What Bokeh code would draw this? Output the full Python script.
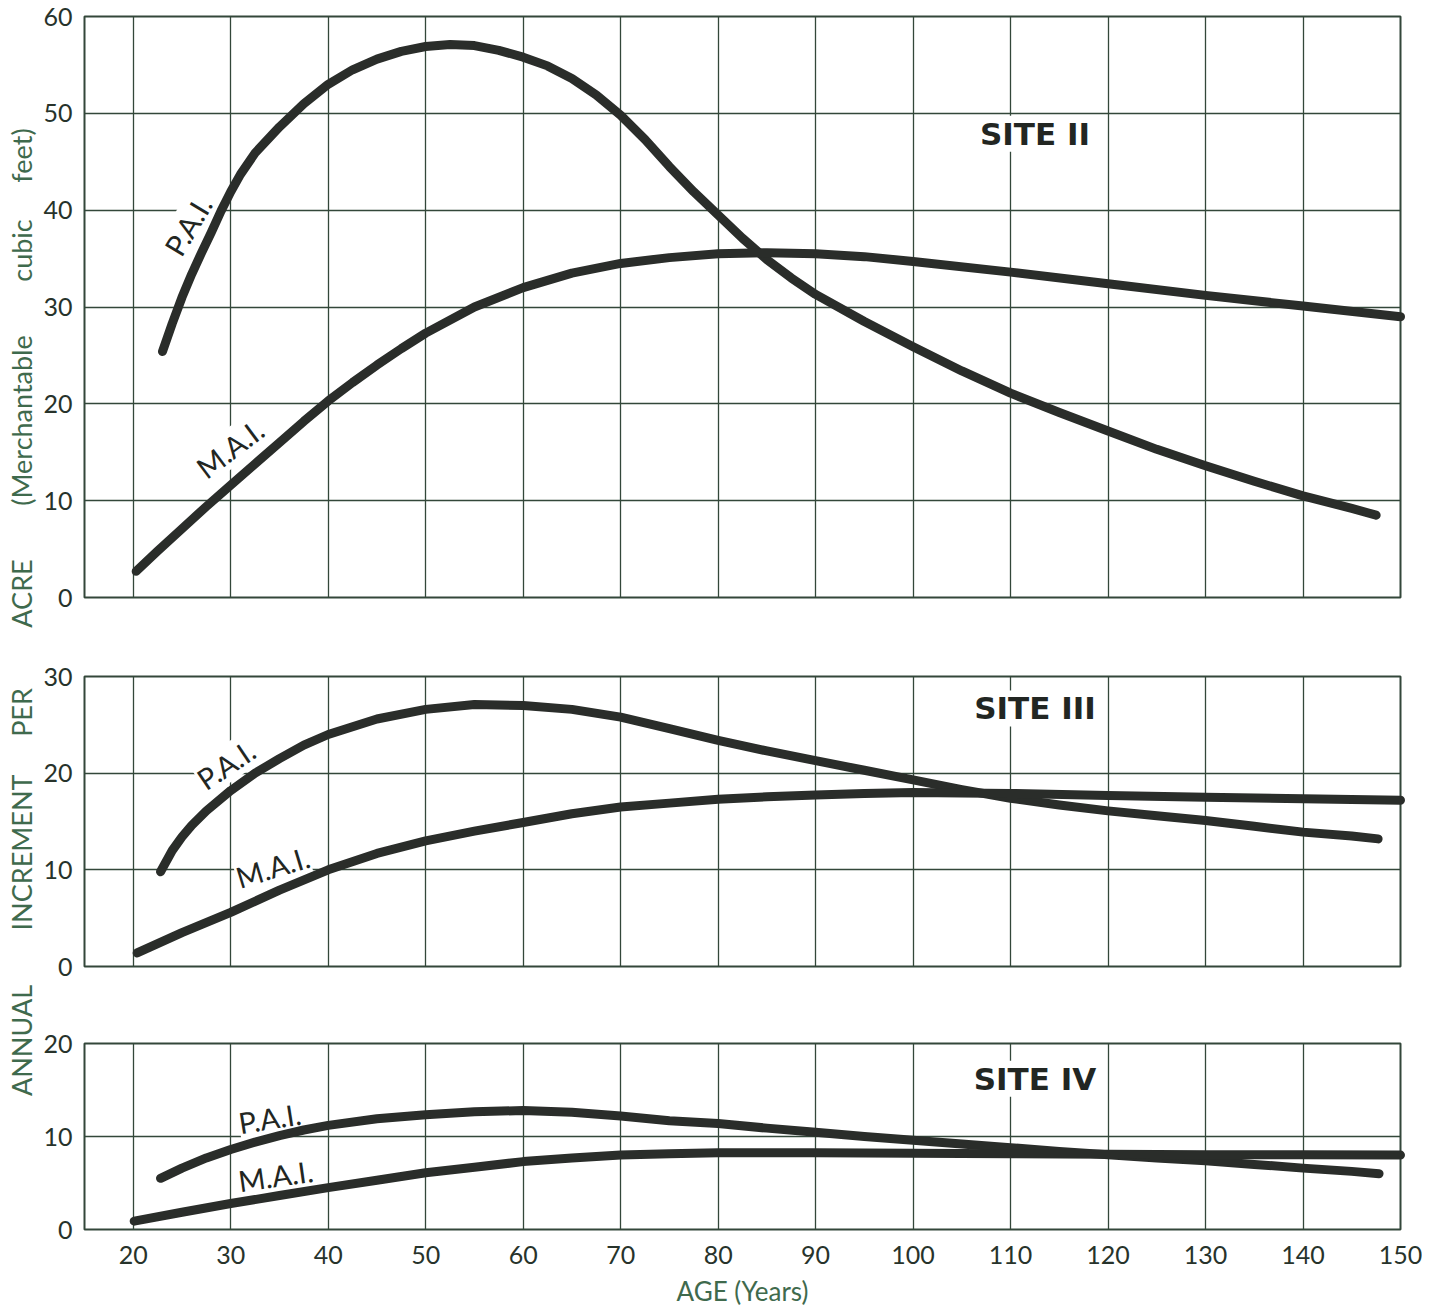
import numpy as np
from bokeh.plotting import figure
from bokeh.models import Range1d, FixedTicker, Label
from bokeh.layouts import row, column
from bokeh.embed import file_html
from bokeh.resources import INLINE
from bokeh.core.properties import value

# ---------------- data ----------------
x_ticks = [20, 30, 40, 50, 60, 70, 80, 90, 100, 110, 120, 130, 140, 150]

site2_pai_age = [23, 24, 25, 26, 27, 28, 29, 30, 31, 32.5, 35, 37.5, 40, 42.5, 45, 47.5, 50, 52.5,
                 55, 57.5, 60, 62.5, 65, 67.5, 70, 72.5, 75, 77.5, 80, 82.5, 85, 87.5, 90, 95,
                 100, 105, 110, 115, 120, 125, 130, 135, 140, 145, 147.5]
site2_pai = [25.4, 28.3, 31.0, 33.4, 35.6, 37.7, 39.9, 41.9, 43.7, 45.9, 48.6, 51.0, 53.0, 54.5,
             55.6, 56.4, 56.9, 57.1, 57.0, 56.5, 55.8, 54.9, 53.6, 51.9, 49.8, 47.3, 44.5, 41.9,
             39.5, 37.1, 34.9, 33.0, 31.3, 28.5, 25.9, 23.4, 21.1, 19.1, 17.2, 15.3, 13.6, 12.0,
             10.5, 9.2, 8.5]
site2_mai_age = [20.3, 22.5, 25, 27.5, 30, 32.5, 35, 37.5, 40, 42.5, 45, 47.5, 50, 55, 60, 65, 70,
                 75, 80, 85, 90, 95, 100, 110, 120, 130, 140, 150]
site2_mai = [2.7, 4.8, 7.1, 9.4, 11.6, 13.8, 16.0, 18.2, 20.3, 22.2, 24.0, 25.7, 27.3, 30.0, 32.0,
             33.5, 34.5, 35.1, 35.5, 35.6, 35.5, 35.2, 34.7, 33.6, 32.4, 31.2, 30.1, 29.0]

site3_pai_age = [22.8, 24, 25, 26, 27.5, 30, 32.5, 35, 37.5, 40, 45, 50, 55, 60, 65, 70, 75, 80,
                 85, 90, 95, 100, 105, 110, 115, 120, 125, 130, 135, 140, 145, 147.7]
site3_pai = [9.8, 12.0, 13.4, 14.6, 16.1, 18.2, 20.0, 21.5, 22.9, 24.0, 25.6, 26.6, 27.1, 27.0,
             26.6, 25.8, 24.6, 23.4, 22.3, 21.3, 20.3, 19.3, 18.3, 17.4, 16.7, 16.1, 15.6, 15.1,
             14.5, 13.9, 13.5, 13.2]
site3_mai_age = [20.4, 25, 30, 35, 40, 45, 50, 55, 60, 65, 70, 75, 80, 85, 90, 95, 100, 110, 120,
                 130, 140, 150]
site3_mai = [1.4, 3.5, 5.6, 7.9, 10.0, 11.7, 13.0, 14.0, 14.9, 15.8, 16.5, 16.9, 17.3, 17.55, 17.75,
             17.9, 18.0, 17.9, 17.7, 17.5, 17.35, 17.2]

site4_pai_age = [22.8, 25, 27.5, 30, 32.5, 35, 37.5, 40, 45, 50, 55, 60, 65, 70, 75, 80, 85, 90,
                 95, 100, 105, 110, 115, 120, 125, 130, 135, 140, 145, 147.8]
site4_pai = [5.5, 6.6, 7.7, 8.6, 9.4, 10.1, 10.7, 11.2, 11.9, 12.35, 12.65, 12.8, 12.6, 12.2, 11.7,
             11.4, 10.9, 10.45, 10.0, 9.6, 9.2, 8.8, 8.4, 8.05, 7.7, 7.4, 7.0, 6.6, 6.25, 6.0]
site4_mai_age = [20.1, 25, 30, 35, 40, 45, 50, 55, 60, 65, 70, 75, 80, 90, 100, 110, 120, 130, 140,
                 150]
site4_mai = [0.9, 1.85, 2.8, 3.65, 4.5, 5.3, 6.1, 6.7, 7.3, 7.7, 8.0, 8.15, 8.25, 8.25, 8.2, 8.15,
             8.1, 8.05, 8.05, 8.0]

site_titles = ["SITE II", "SITE III", "SITE IV"]
y_maxes = [60, 30, 20]
x_label = "AGE (Years)"
y_label_words = ["ANNUAL", "INCREMENT", "PER", "ACRE", "(Merchantable", "cubic", "feet)"]

# ---------------- styling ----------------
GRID = "#33473a"
CURVE = "#2a2d2a"
TICK = "#27332b"
YLAB = "#3f6a4d"
FONT = "Lato"
LAB_W = 38


def panel(ymax, height, top, bottom, show_x):
    p = figure(width=1422 - LAB_W, height=height, x_range=Range1d(15, 150),
               y_range=Range1d(0, ymax), output_backend="svg", toolbar_location=None,
               x_axis_location="below" if show_x else None,
               min_border_left=84 - LAB_W, min_border_right=22, min_border_top=top,
               min_border_bottom=bottom)
    p.background_fill_color = "white"
    p.border_fill_color = "white"
    p.outline_line_color = GRID
    p.outline_line_width = 2
    p.xgrid.ticker = FixedTicker(ticks=list(range(20, 150, 10)))
    p.ygrid.ticker = FixedTicker(ticks=list(range(10, ymax, 10)))
    for g in (p.xgrid, p.ygrid):
        g.grid_line_color = GRID
        g.grid_line_width = 1.3
        g.grid_line_alpha = 1.0
    ax = p.yaxis[0]
    ax.ticker = FixedTicker(ticks=list(range(0, ymax + 1, 10)))
    ax.axis_line_color = None
    ax.major_tick_line_color = None
    ax.minor_tick_line_color = None
    ax.major_label_standoff = 6
    ax.major_label_text_font = FONT
    ax.major_label_text_font_size = "25px"
    ax.major_label_text_color = TICK
    if show_x:
        xa = p.xaxis[0]
        xa.ticker = FixedTicker(ticks=x_ticks)
        xa.axis_line_color = None
        xa.major_tick_line_color = None
        xa.minor_tick_line_color = None
        xa.major_label_standoff = 10
        xa.major_label_text_font = FONT
        xa.major_label_text_font_size = "25px"
        xa.major_label_text_color = TICK
        xa.axis_label = x_label
        xa.axis_label_standoff = 8
        xa.axis_label_text_font = FONT
        xa.axis_label_text_font_size = "26px"
        xa.axis_label_text_font_style = "normal"
        xa.axis_label_text_color = YLAB
    return p


def curve(p, xs, ys):
    r = p.line(xs, ys, line_width=9, line_color=CURVE, line_cap="round", line_join="round")
    r.level = "overlay"


def tag(p, x, y, text, angle_deg, size="29px", style="normal", font=FONT):
    p.add_layout(Label(x=x, y=y, text=text, angle=np.deg2rad(angle_deg), text_align="center",
                       text_baseline="middle", text_font=font, text_font_size=size,
                       text_font_style=style, text_color="#222622",
                       background_fill_color="white", background_fill_alpha=1.0))


H1, H2, H3 = 637, 367, 305

p1 = panel(y_maxes[0], H1, 16, 40, False)
curve(p1, site2_pai_age, site2_pai)
curve(p1, site2_mai_age, site2_mai)
tag(p1, 25.6, 38.4, "P.A.I.", 59)
tag(p1, 29.9, 15.4, "M.A.I.", 37)
tag(p1, 112.5, 47.9, site_titles[0], 0, size="31px", style="bold", font="DejaVu Sans")

p2 = panel(y_maxes[1], H2, 39, 38, False)
curve(p2, site3_pai_age, site3_pai)
curve(p2, site3_mai_age, site3_mai)
tag(p2, 29.5, 20.9, "P.A.I.", 34)
tag(p2, 34.3, 10.3, "M.A.I.", 17)
tag(p2, 112.5, 26.7, site_titles[1], 0, size="31px", style="bold", font="DejaVu Sans")

p3 = panel(y_maxes[2], H3, 39, 72, True)
curve(p3, site4_pai_age, site4_pai)
curve(p3, site4_mai_age, site4_mai)
tag(p3, 34.0, 12.0, "P.A.I.", 9)
tag(p3, 34.6, 5.8, "M.A.I.", 8)
tag(p3, 112.5, 16.2, site_titles[2], 0, size="31px", style="bold", font="DejaVu Sans")

# vertical (shared) y-axis title, in page-pixel coordinates
total_h = H1 + H2 + H3
lab = figure(width=LAB_W, height=total_h, x_range=Range1d(0, LAB_W),
             y_range=Range1d(total_h, 0), output_backend="svg", toolbar_location=None,
             x_axis_location=None, y_axis_location=None, min_border_left=0, min_border_right=0,
             min_border_top=0, min_border_bottom=0)
lab.outline_line_color = None
lab.xgrid.visible = False
lab.ygrid.visible = False
word_centers = [1040, 852, 712, 593, 420, 250, 155]
lab.text(x=[21] * len(y_label_words), y=word_centers, text=y_label_words, angle=np.pi / 2,
         text_align="center", text_baseline="middle", text_font=value(FONT),
         text_font_size="27px", text_color=YLAB)

layout = row(lab, column(p1, p2, p3))
open("out.html", "w").write(file_html(layout, INLINE))
